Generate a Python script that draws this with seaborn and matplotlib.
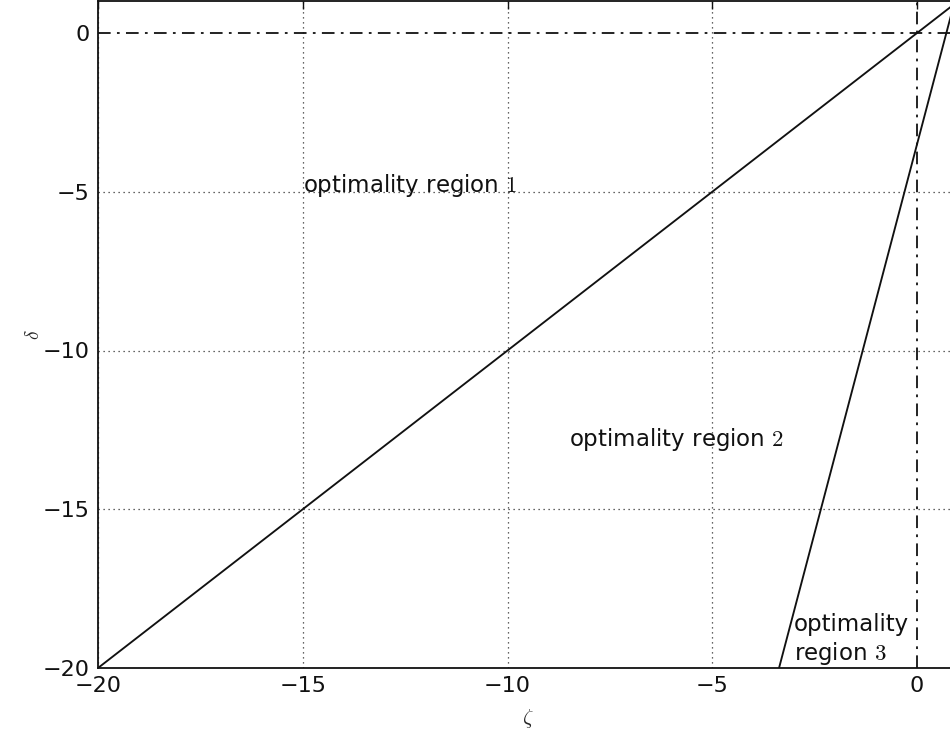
import numpy as np
import pandas as pd
import matplotlib
matplotlib.use("Agg")
import matplotlib.pyplot as plt
import seaborn as sns

# boundary between region 1 and region 2: delta = zeta
boundary_12_zeta = [-20.0, 1.0]
boundary_12_delta = [-20.0, 1.0]
# boundary between region 2 and region 3: delta = 4.9 zeta - 3.5
boundary_23_zeta = [-3.37, 0.92]
boundary_23_delta = [-20.0, 1.0]

region_labels = ["optimality region $1$", "optimality region $2$", "optimality\nregion $3$"]
region_zeta = [-15.0, -8.5, -3.0]
region_delta = [-5.0, -13.0, -19.75]

ticks = [-20, -15, -10, -5, 0]

sns.set_style("white")
plt.rcParams["font.family"] = ["DejaVu Sans"]
plt.rcParams["mathtext.fontset"] = "cm"

fig = plt.figure(figsize=(9.5, 7.42), dpi=100)
ax = fig.add_axes([98 / 950, 1 - 668 / 742, 860 / 950, 666.75 / 742])

df = pd.concat([
    pd.DataFrame({"zeta": boundary_12_zeta, "delta": boundary_12_delta, "b": "12"}),
    pd.DataFrame({"zeta": boundary_23_zeta, "delta": boundary_23_delta, "b": "23"}),
])
for key, sub in df.groupby("b"):
    sns.lineplot(data=sub, x="zeta", y="delta", sort=False, estimator=None,
                 color="#111111", lw=1.35, ax=ax, legend=False, zorder=3)

ax.axhline(0, color="#111111", lw=1.3, dashes=(7, 3.5, 1.5, 3.5), zorder=3)
ax.axvline(0, color="#111111", lw=1.3, dashes=(7, 3.5, 1.5, 3.5), zorder=3)

for lab, zx, dy in zip(region_labels, region_zeta, region_delta):
    ax.text(zx, dy, lab, fontsize=16.5, color="#111111")

ax.set_xlim(-20, 1)
ax.set_ylim(-20, 1)
ax.set_xticks(ticks)
ax.set_yticks(ticks)
ax.grid(True, ls=(0, (1, 3)), color="#333333", lw=0.9)
# the zero lines are drawn dash-dotted instead of as grid lines
for gl, t in zip(ax.xaxis.get_gridlines(), ticks):
    gl.set_visible(t != 0)
for gl, t in zip(ax.yaxis.get_gridlines(), ticks):
    gl.set_visible(t != 0)
ax.tick_params(direction="in", length=6, width=1, labelsize=16, top=True, right=True,
               colors="#111111", pad=6)
for s in ax.spines.values():
    s.set_color("#111111")
    s.set_linewidth(1.3)

ax.set_xlabel(r"$\zeta$", fontsize=15, labelpad=8)
ax.set_ylabel(r"$\delta$", fontsize=14, labelpad=0)

fig.savefig("out.png", dpi=100)
